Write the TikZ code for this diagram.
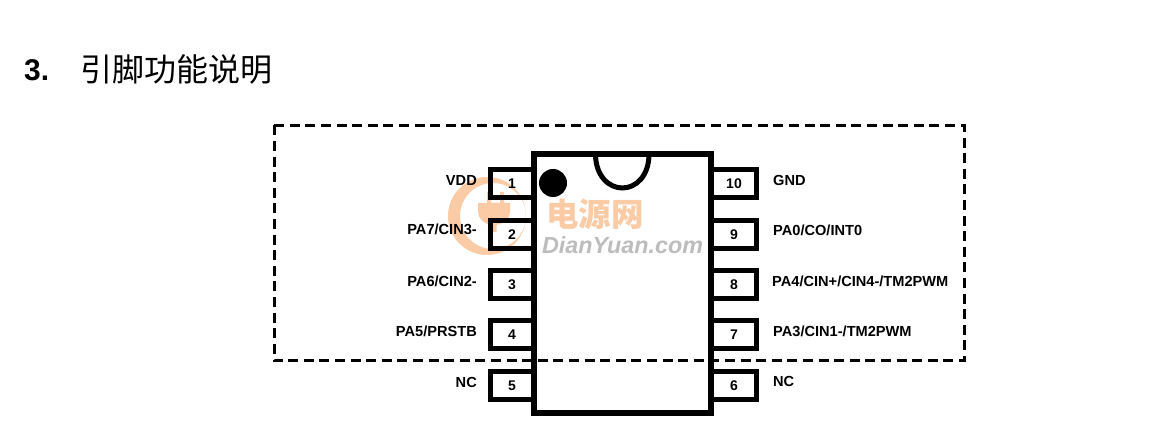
\documentclass[tikz,border=0pt]{standalone}
\usepackage{fontspec}
\setmainfont{Liberation Sans}
\newfontfamily\cjk{Noto Sans CJK SC}
\definecolor{wmorange}{HTML}{FBCBA6}
\definecolor{wmgrey}{HTML}{BDBDBD}
\begin{document}
\begin{tikzpicture}[x=1bp,y=-1bp,
  pinbox/.style={draw=black,line width=5bp},
  pinnum/.style={font=\fontsize{14bp}{16bp}\selectfont\bfseries,text=black,inner sep=0pt,anchor=center},
  pinlabel/.style={font=\fontsize{14.6bp}{16bp}\selectfont\bfseries,text=black,inner sep=0pt},
  leftlabel/.style={pinlabel,anchor=east},
  rightlabel/.style={pinlabel,anchor=west}]
\useasboundingbox (0,0) rectangle (1152,439);
\fill[white] (0,0) rectangle (1152,439);
% watermark (under the drawing)
\begin{scope}
  \clip (440,170) rectangle (526,260);
  \fill[wmorange,even odd rule] (487,216) circle (39) (493,216) circle (33);
\end{scope}
\fill[wmorange] (478,203) -- (510,203) -- (510,211) .. controls (510,219) and (503,225) .. (494,225) .. controls (485,225) and (478,219) .. (478,211) -- cycle;
\fill[wmorange] (487,192) rectangle (491,203) (500,192) rectangle (504,203) (491.5,224) rectangle (496.5,232);
\node[inner sep=0pt,text=wmorange,font=\fontsize{7bp}{8bp}\selectfont] (wmr) at (527.5,248) {®};
\node[inner sep=0pt,text=wmorange,font=\cjk\fontsize{32.5bp}{34bp}\selectfont\bfseries] (wm1) at (595,214.5) {电源网};
\node[inner sep=0pt,text=wmgrey,font=\fontsize{23.3bp}{25bp}\selectfont\bfseries\itshape] (wm2) at (622.5,245) {DianYuan.com};
% heading
\node[anchor=west,inner sep=0pt,font=\fontsize{30bp}{32bp}\selectfont\bfseries] (num) at (24,70) {3.};
\node[anchor=west,inner sep=0pt,font=\cjk\fontsize{32bp}{34bp}\selectfont] (title) at (80,69) {引脚功能说明};
% pins
\foreach \y/\n/\m in {170/1/10,220.5/2/9,270.5/3/8,320.5/4/7,371.5/5/6}{
  \draw[pinbox] (534,\y) -- (490.5,\y) -- (490.5,\y+28) -- (534,\y+28);
  \draw[pinbox] (711,\y) -- (756.5,\y) -- (756.5,\y+28) -- (711,\y+28);
  \node[pinnum] (L\n) at (512,\y+14) {\n};
  \node[pinnum] (R\m) at (734,\y+14) {\m};
}
% chip
\draw[line width=5.2bp] (534,154) rectangle (711,413);
\draw[line width=5bp] (595.5,154) .. controls (595.5,176) and (609,188) .. (622.3,188) .. controls (636,188) and (649,176) .. (649,154);
\fill (553,183) circle (14);
% dashed box
\draw[line width=3bp,dash pattern=on 10bp off 5.6bp] (274,125.5) rectangle (964,361);
% labels
\node[leftlabel] (lvdd) at (477,180) {VDD};
\node[leftlabel] (lpa7) at (477,229.5) {PA7/CIN3-};
\node[leftlabel] (lpa6) at (477,281) {PA6/CIN2-};
\node[leftlabel] (lpa5) at (477,331) {PA5/PRSTB};
\node[leftlabel] (lnc) at (477,382) {NC};
\node[rightlabel] (rgnd) at (773,180) {GND};
\node[rightlabel] (rpa0) at (773,230) {PA0/CO/INT0};
\node[rightlabel] (rpa4) at (772,281) {PA4/CIN+/CIN4-/TM2PWM};
\node[rightlabel] (rpa3) at (773,331) {PA3/CIN1-/TM2PWM};
\node[rightlabel] (rnc) at (773,381) {NC};
\end{tikzpicture}
\end{document}
